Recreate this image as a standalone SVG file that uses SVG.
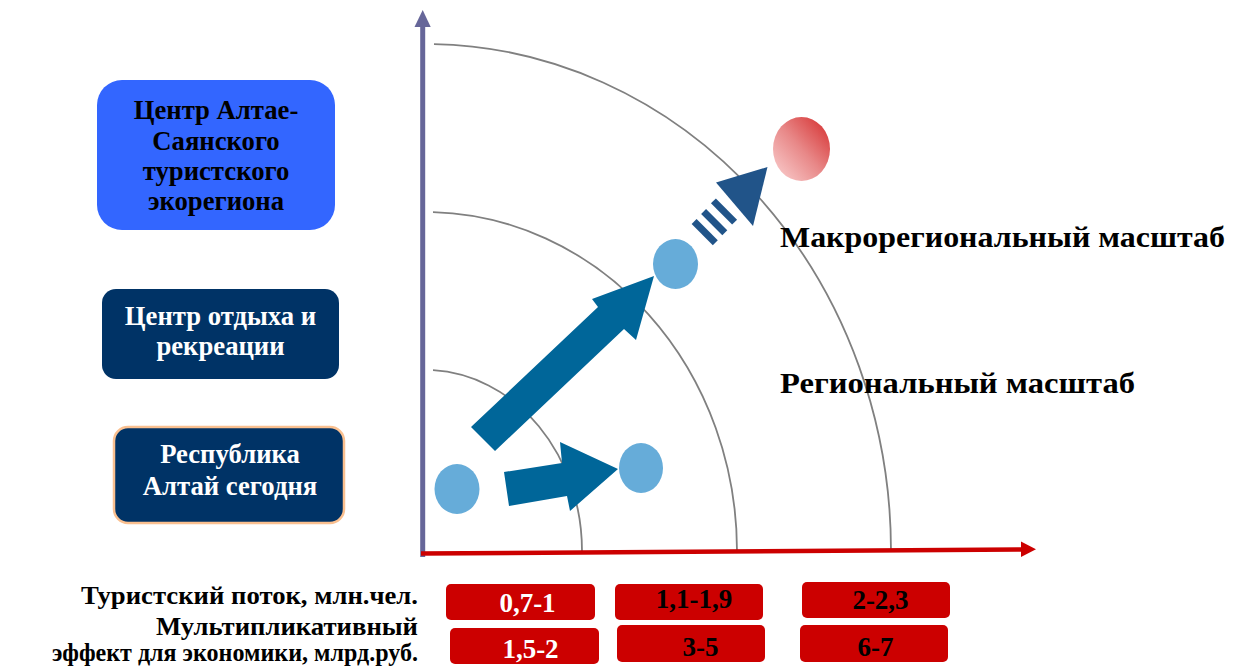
<svg xmlns="http://www.w3.org/2000/svg" width="1240" height="669" viewBox="0 0 1240 669">
<defs>
<style>
.t{font-family:"Liberation Serif","Times New Roman",serif;font-weight:bold;}
.bx{font-size:26.7px;text-anchor:middle;}
.wt{fill:#FFFFFF;}
.bk{fill:#000000;}
.arc{fill:none;stroke:#808080;stroke-width:1.8;}
.dot{fill:#66ACD9;}
.arr{fill:#006699;}
.sarr{fill:#215489;}
.rb{fill:#CC0000;}
.num{font-size:27px;text-anchor:middle;}
.lbl{font-size:25px;text-anchor:end;}
.big{font-size:30px;}
</style>
<linearGradient id="redg" x1="1" y1="0" x2="0" y2="1">
<stop offset="0" stop-color="#D42A2A"/>
<stop offset="0.5" stop-color="#E88888"/>
<stop offset="1" stop-color="#FBD3D3"/>
</linearGradient>
</defs>
<rect width="1240" height="669" fill="#FFFFFF"/>

<g id="arcs">
<path class="arc" d="M433,370.2 A157,181 0 0 1 582,551"/>
<path class="arc" d="M433,212.1 A312,339 0 0 1 737,551"/>
<path class="arc" d="M434,44.1 A466,507 0 0 1 891,551"/>
</g>

<g id="connectors">
<g id="y-axis">
<line x1="422.7" y1="557" x2="422.7" y2="24" stroke="#666699" stroke-width="5"/>
<polygon points="422.7,10 430.7,27 414.5,27" fill="#666699"/>
</g>
<g id="x-axis">
<line x1="421" y1="553.5" x2="1022" y2="549.5" stroke="#CC0000" stroke-width="4.5"/>
<polygon points="1021,541.5 1036,549.3 1021,557" fill="#CC0000"/>
</g>
<polygon id="arrow-small" class="arr" points="504,472 562,463 560,442 618,469 570,511 567,496 509,506"/>
<polygon id="arrow-big" class="arr" points="471,427 598,307 592,299 654,276 636,340 624,329 495,451"/>
<g id="arrow-striped" class="sarr">
<rect x="-3.5" y="-15" width="7" height="30" transform="translate(704.7,232.2) rotate(-45)"/>
<rect x="-3.5" y="-15" width="7" height="30" transform="translate(714.2,222.2) rotate(-45)"/>
<rect x="-3.5" y="-15" width="7" height="30" transform="translate(724,211.5) rotate(-45)"/>
<polygon points="716,182.5 767.5,167 753,226"/>
</g>
</g>

<g id="node-dot-today"><ellipse class="dot" cx="457" cy="489" rx="22.5" ry="25"/></g>
<g id="node-dot-local"><ellipse class="dot" cx="641" cy="468" rx="22" ry="25"/></g>
<g id="node-dot-regional"><ellipse class="dot" cx="675.5" cy="264" rx="22.5" ry="25"/></g>
<g id="node-dot-macro"><ellipse cx="801.5" cy="149" rx="28.5" ry="32" fill="url(#redg)"/></g>

<g id="node-ecoregion">
<rect x="97" y="80" width="238" height="150" rx="25" fill="#3366FF"/>
<text class="t bx bk" x="216" y="119">Центр Алтае-</text>
<text class="t bx bk" x="216" y="150">Саянского</text>
<text class="t bx bk" x="216" y="180">туристского</text>
<text class="t bx bk" x="216" y="210">экорегиона</text>
</g>

<g id="node-recreation">
<rect x="102" y="289" width="237" height="90" rx="14" fill="#003366"/>
<text class="t bx wt" x="220.5" y="325">Центр отдыха и</text>
<text class="t bx wt" x="220.5" y="355">рекреации</text>
</g>

<g id="node-today">
<rect x="114" y="427" width="230" height="96" rx="14" fill="#003366" stroke="#FAC090" stroke-width="2.5"/>
<text class="t bx wt" x="230" y="463">Республика</text>
<text class="t bx wt" x="230" y="495">Алтай сегодня</text>
</g>

<g id="label-macro"><text class="t big bk" x="780" y="247" textLength="445" lengthAdjust="spacingAndGlyphs">Макрорегиональный масштаб</text></g>
<g id="label-regional"><text class="t big bk" x="780" y="393" textLength="355" lengthAdjust="spacingAndGlyphs">Региональный масштаб</text></g>

<g id="legend-labels">
<text class="t lbl bk" x="418" y="604" textLength="337" lengthAdjust="spacingAndGlyphs">Туристский поток, млн.чел.</text>
<text class="t lbl bk" x="418" y="635" textLength="262" lengthAdjust="spacingAndGlyphs">Мультипликативный</text>
<text class="t lbl bk" x="418" y="661" textLength="366" lengthAdjust="spacingAndGlyphs">эффект для экономики, млрд.руб.</text>
</g>

<g id="node-flow-1"><rect class="rb" x="446" y="584" width="149" height="36" rx="5"/><text class="t num wt" x="527.5" y="612">0,7-1</text></g>
<g id="node-flow-2"><rect class="rb" x="615" y="584" width="148" height="36" rx="5"/><text class="t num bk" x="694" y="608">1,1-1,9</text></g>
<g id="node-flow-3"><rect class="rb" x="802" y="582" width="148" height="36" rx="5"/><text class="t num bk" x="880.5" y="608.5">2-2,3</text></g>
<g id="node-eff-1"><rect class="rb" x="450" y="628" width="149" height="36" rx="5"/><text class="t num wt" x="530.5" y="658">1,5-2</text></g>
<g id="node-eff-2"><rect class="rb" x="617" y="625" width="148" height="37" rx="5"/><text class="t num bk" x="700.5" y="655.5">3-5</text></g>
<g id="node-eff-3"><rect class="rb" x="800" y="625" width="148" height="37" rx="5"/><text class="t num bk" x="875.5" y="655.5">6-7</text></g>
</svg>
